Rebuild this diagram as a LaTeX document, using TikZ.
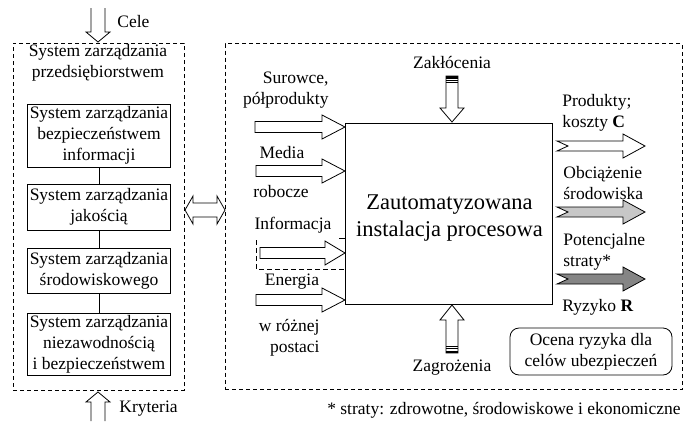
\documentclass[tikz,border=0pt]{standalone}
\usepackage{fontspec}
\setmainfont{Liberation Serif}
\newcommand\inblk[4]{\draw[blk] ({#1},{#4-5.5}) -- ({#2},{#4-5.5}) -- ({#2},{#4-12}) -- ({#3},{#4}) -- ({#2},{#4+12}) -- ({#2},{#4+5.5}) -- ({#1},{#4+5.5}) -- cycle;}
\newcommand\outblk[2]{\draw[blk,fill=#1] (557,{#2-5}) -- (623,{#2-5}) -- (623,{#2-12}) -- (645,{#2}) -- (623,{#2+12}) -- (623,{#2+5}) -- (557,{#2+5}) -- (568,{#2}) -- cycle;}
\begin{document}
\begin{tikzpicture}[x=1pt,y=-1pt,line width=0.8pt,
  font=\fontsize{17.5}{21}\selectfont,
  frame/.style={draw,dash pattern=on 4pt off 3pt,inner sep=0},
  sysbox/.style={draw,align=center,minimum width=143pt,inner sep=0},
  blk/.style={draw,fill=white,line width=0.8pt,line join=miter},
  lbl/.style={inner sep=0,align=center},
  lblr/.style={inner sep=0,align=right},
  lbll/.style={inner sep=0,align=left}]
\useasboundingbox (0,0) rectangle (691,421);
% frames
\node[frame,minimum width=171pt,minimum height=347pt] (lframe) at (98.5,216.5) {};
\node[frame,minimum width=457pt,minimum height=346pt] (rframe) at (453.5,216.5) {};
% left side
\node[lbl] (title) at (98,62.5) {System zarządzania\\przedsiębiorstwem};
\node[sysbox,minimum height=63pt] (b1) at (99,135.5) {System zarządzania\\bezpieczeństwem\\informacji};
\node[sysbox,minimum height=46pt] (b2) at (99,207) {System zarządzania\\jakością};
\node[sysbox,minimum height=45pt] (b3) at (99,270.5) {System zarządzania\\środowiskowego};
\node[sysbox,minimum height=62pt] (b4) at (99,344) {System zarządzania\\niezawodnością\\i bezpieczeństwem};
\draw (b1.south) -- (b2.north);
\draw (b2.south) -- (b3.north);
\draw (b3.south) -- (b4.north);
% Cele / Kryteria
\draw[blk] (91,8) -- (91,32) -- (86,32) -- (98,42) -- (110,32) -- (105,32) -- (105,8);
\node[lbl,anchor=west] (cele) at (117,22) {Cele};
\draw[blk] (91,421) -- (91,402) -- (86,402) -- (98,392) -- (110,402) -- (105,402) -- (105,421);
\node[lbl,anchor=west] (kryt) at (119,409) {Kryteria};
% double arrow between frames
\draw[blk] (185,210) -- (193,196) -- (193,203) -- (217,203) -- (217,196) -- (225,210) -- (217,224) -- (217,217) -- (193,217) -- (193,224) -- cycle;
% process box
\node[draw,minimum width=207pt,minimum height=181pt,inner sep=0] (proc) at (448.5,213.5) {};
\node[lbl,font=\fontsize{22.5}{27}\selectfont] (ptext) at (449.5,218.5) {Zautomatyzowana\\instalacja procesowa};
% Zaklocenia
\node[lbl] (zakl) at (452,62) {Zakłócenia};
\draw[blk] (446,76) -- (458,76) -- (458,108) -- (464,108) -- (452,122) -- (440,108) -- (446,108) -- cycle;
\fill (446,76) rectangle (458,78.5);
\draw (446,80.6) -- (458,80.6);
\draw (446,82.8) -- (458,82.8);
% Zagrozenia
\node[lbl] (zagr) at (452,368) {Zagrożenia};
\draw[blk] (452,305) -- (464,320) -- (458,320) -- (458,353) -- (446,353) -- (446,320) -- (440,320) -- cycle;
\fill (446,350.5) rectangle (458,353);
\draw (446,348.2) -- (458,348.2);
\draw (446,346) -- (458,346);
% inputs
\node[lblr,anchor=east] (sur) at (329,90) {Surowce,\\półprodukty};
\inblk{255}{322}{345}{127}
\node[lbl] (media) at (282,153) {Media};
\inblk{256}{322}{345}{171}
\node[lbl] (rob) at (281,192) {robocze};
\node[lbl] (info) at (293,225) {Informacja};
\inblk{260}{325}{345}{253}
\draw[dash pattern=on 5pt off 3pt] (256,240) -- (256,269) -- (proc.west |- 0,269);
\draw (339,238) -- (proc.west |- 0,238);
\node[lbl] (energ) at (292,282) {Energia};
\inblk{256}{322}{345}{300}
\node[lblr,anchor=east] (postac) at (320,337.5) {w różnej\\postaci};
% outputs
\node[lbll,anchor=west] (prod) at (562,112.5) {Produkty;\\koszty \textbf{C}};
\outblk{white}{146}
\node[lbll,anchor=west] (obc) at (563,183) {Obciążenie\\środowiska};
\outblk{black!22}{212}
\node[lbll,anchor=west] (pot) at (563,251.5) {Potencjalne\\straty*};
\outblk{black!48}{279}
\node[lbll,anchor=west] (ryz) at (562,307) {Ryzyko \textbf{R}};
\node[draw,rounded corners=9pt,minimum width=162pt,minimum height=47pt,inner sep=0,align=center] (ocena) at (591,351.5) {Ocena ryzyka dla\\celów ubezpieczeń};
% footnote
\node[lbl,anchor=east] (foot) at (681,410) {* straty: zdrowotne, środowiskowe i ekonomiczne};
\end{tikzpicture}
\end{document}
